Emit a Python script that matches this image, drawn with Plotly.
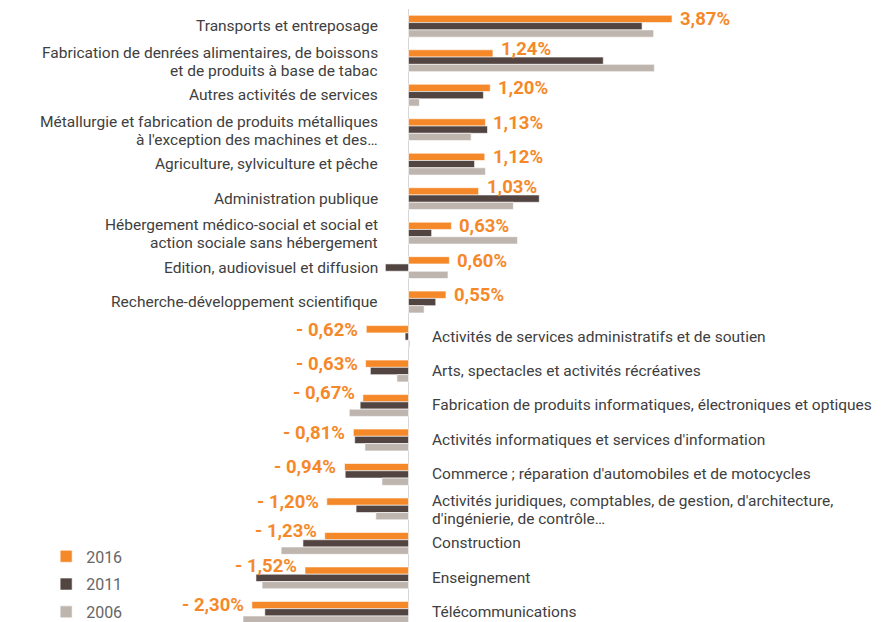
import plotly.graph_objects as go

categories = [
    "Transports et entreposage",
    "Fabrication de denrées alimentaires, de boissons<br>et de produits à base de tabac",
    "Autres activités de services",
    "Métallurgie et fabrication de produits métalliques<br>à l'exception des machines et des…",
    "Agriculture, sylviculture et pêche",
    "Administration publique",
    "Hébergement médico-social et social et<br>action sociale sans hébergement",
    "Edition, audiovisuel et diffusion",
    "Recherche-développement scientifique",
    "Activités de services administratifs et de soutien",
    "Arts, spectacles et activités récréatives",
    "Fabrication de produits informatiques, électroniques et optiques",
    "Activités informatiques et services d'information",
    "Commerce ; réparation d'automobiles et de motocycles",
    "Activités juridiques, comptables, de gestion, d'architecture,<br>d'ingénierie, de contrôle…",
    "Construction",
    "Enseignement",
    "Télécommunications",
]
v2016 = [3.87, 1.24, 1.20, 1.13, 1.12, 1.03, 0.63, 0.60, 0.55,
         -0.62, -0.63, -0.67, -0.81, -0.94, -1.20, -1.23, -1.52, -2.30]
v2011 = [3.43, 2.86, 1.10, 1.16, 0.97, 1.92, 0.34, -0.34, 0.40,
         -0.05, -0.56, -0.71, -0.79, -0.93, -0.77, -1.55, -2.24, -2.11]
v2006 = [3.60, 3.61, 0.16, 0.92, 1.13, 1.54, 1.60, 0.58, 0.23,
         0.02, -0.17, -0.87, -0.64, -0.39, -0.48, -1.87, -2.15, -2.43]
series_names = ["2016", "2011", "2006"]

colors = ["#F5892A", "#514441", "#BEB5AF"]
ykeys = list(range(len(categories)))

fig = go.Figure()
for name, vals, col in zip(series_names, [v2016, v2011, v2006], colors):
    fig.add_trace(go.Bar(
        y=ykeys, x=vals, name=name, orientation="h",
        marker=dict(color=col, line=dict(color="white", width=0.6)),
        legendgroup=name, hoverinfo="x+name",
    ))

def fmt(v):
    s = f"{abs(v):.2f}".replace(".", ",") + "%"
    return s if v >= 0 else "- " + s

CAT_FS = 15.5
LINE_GAP = 18.3
annotations = []
for i, (cat, v, v11) in enumerate(zip(categories, v2016, v2011)):
    pos = v >= 0
    lines = cat.split("<br>")
    n = len(lines)
    for k, line in enumerate(lines):
        annotations.append(dict(
            x=0, y=i, xref="x", yref="y", text=line, showarrow=False,
            xanchor="right" if pos else "left",
            xshift=-30 if pos else 22,
            yshift=((n - 1) / 2 - k) * LINE_GAP - (1 if n > 1 else 0),
            borderpad=0,
            font=dict(family="Roboto", size=CAT_FS, color="#404040"),
        ))
    # lift the label a little when the 2011 bar runs underneath it
    extra = 5 if (v * v11 > 0 and abs(v11) > abs(v) + 0.035) else 0
    annotations.append(dict(
        x=v, y=i, xref="x", yref="y", text=fmt(v), showarrow=False,
        xanchor="left" if pos else "right", xshift=7 if pos else -7,
        yshift=7 + extra, borderpad=0,
        font=dict(family="Roboto", size=18.5, color="#F5892A", weight="bold"),
    ))

px_per = 68.1
zero_px = 408.5
W, H = 896, 622
fig.update_layout(
    width=W, height=H,
    margin=dict(l=0, r=0, t=9, b=0, autoexpand=False),
    paper_bgcolor="white", plot_bgcolor="white",
    barmode="group", bargap=0.366, bargroupgap=0,
    xaxis=dict(range=[-zero_px / px_per, (W - zero_px) / px_per],
               showgrid=False, showticklabels=False, zeroline=True,
               zerolinecolor="#D6D6D6", zerolinewidth=1, fixedrange=True),
    yaxis=dict(type="linear", range=[17.28, -0.5], showgrid=False,
               showticklabels=False, zeroline=False, fixedrange=True),
    annotations=annotations,
    legend=dict(x=0.0515, y=-0.012, xanchor="left", yanchor="bottom",
                font=dict(family="Roboto", size=16, color="#666666"),
                tracegroupgap=4, bgcolor="rgba(0,0,0,0)"),
    font=dict(family="Roboto"),
    showlegend=True,
)
fig.write_html("out.html", config={"displayModeBar": False},
               post_script="document.body.style.margin='0';document.body.style.overflow='hidden';")
